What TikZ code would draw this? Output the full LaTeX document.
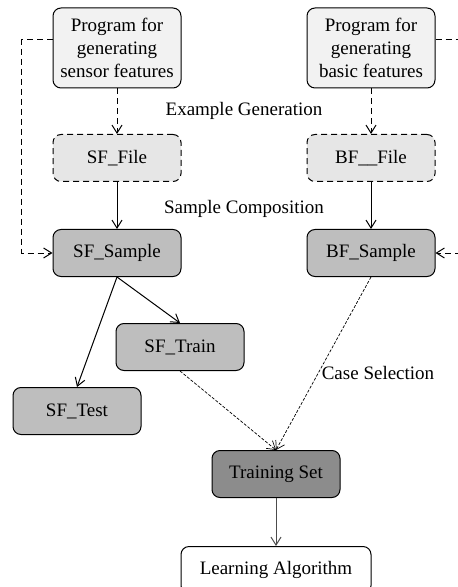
\documentclass[tikz,border=0pt]{standalone}
\usepackage{fontspec}
\setmainfont{Liberation Serif}
\usetikzlibrary{arrows.meta}

\definecolor{progfill}{RGB}{242,242,242}
\definecolor{filefill}{RGB}{230,230,230}
\definecolor{samplefill}{RGB}{190,190,190}
\definecolor{setfill}{RGB}{140,140,140}

\tikzset{
  stage/.style={draw, line width=0.5pt, rounded corners=4pt, minimum width=64pt,
    minimum height=23.5pt, align=center, inner sep=2pt,
    font=\fontsize{9.5}{11.5}\selectfont},
  prog/.style={stage, fill=progfill, minimum height=40pt},
  datafile/.style={stage, fill=filefill, dash pattern=on 3pt off 2pt},
  sample/.style={stage, fill=samplefill},
  part/.style={stage, fill=samplefill},
  trainset/.style={stage, fill=setfill},
  algo/.style={stage, fill=white, minimum width=95pt},
  flow/.style={-{Straight Barb[length=4pt,width=5pt]}, line width=0.5pt},
  dflow/.style={flow, dash pattern=on 3pt off 2pt},
  sel/.style={-{Straight Barb[length=4pt,width=5pt]}, line width=0.35pt,
    dash pattern=on 1.5pt off 0.8pt},
  note/.style={font=\fontsize{9.5}{11.5}\selectfont}
}

\begin{document}
\begin{tikzpicture}[x=0.5pt, y=-0.5pt]
\useasboundingbox (0,0) rectangle (457,587);

% programs
\node[prog] (sfprog) at (117,48) {Program for\\generating\\sensor features};
\node[prog] (bfprog) at (371,48) {Program for\\generating\\basic features};

% files
\node[datafile] (sffile) at (117,158) {SF\_File};
\node[datafile] (bffile) at (371,158) {BF\_\_File};

% samples
\node[sample] (sfsample) at (117,253) {SF\_Sample};
\node[sample] (bfsample) at (371,253) {BF\_Sample};

\node[part] (sftrain) at (180,347) {SF\_Train};
\node[part] (sftest) at (77,411) {SF\_Test};

\node[trainset] (trainset) at (276,474) {Training Set};
\node[algo] (learn) at (276,570) {Learning Algorithm};

% labels
\node[note] (genlbl) at (244,111) {Example Generation};
\node[note] (complbl) at (244,209) {Sample Composition};
\node[note] (sellbl) at (378,373) {Case Selection};

\draw[dflow] (sfprog) -- (sffile);
\draw[dflow] (bfprog) -- (bffile);
\draw[flow] (sffile) -- (sfsample);
\draw[flow] (bffile) -- (bfsample);

\draw[dflow] ([yshift=4pt]sfprog.west) -- ++(-31,0) |- (sfsample.west);
\draw[dflow] ([yshift=4pt]bfprog.east) -- ++(26,0) |- (bfsample.east);

\draw[flow] (sfsample.south) -- (sftest.north);
\draw[flow] (sfsample.south) -- (sftrain.north);

\draw[sel] (sftrain.south) -- (trainset.north);
\draw[sel] (bfsample.south) -- (trainset.north);

\draw[flow, draw=black!70] (trainset) -- (learn);
\end{tikzpicture}
\end{document}
